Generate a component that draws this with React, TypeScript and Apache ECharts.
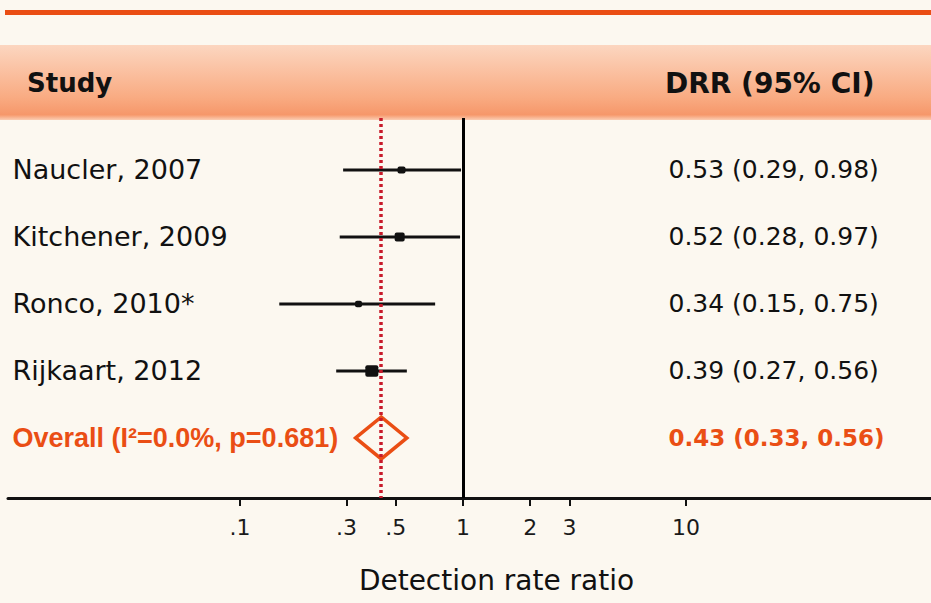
import React, { useEffect, useRef } from 'react';
import * as echarts from 'echarts';

const studies = ['Naucler, 2007', 'Kitchener, 2009', 'Ronco, 2010*', 'Rijkaart, 2012'];
const drr = [0.53, 0.52, 0.34, 0.39];
const ciLower = [0.29, 0.28, 0.15, 0.27];
const ciUpper = [0.98, 0.97, 0.75, 0.56];
const markerSize = [8, 10, 7, 13];
const overallLabel = 'Overall (I\u00B2=0.0%, p=0.681)';
const overallDrr = 0.43;
const overallLower = 0.33;
const overallUpper = 0.56;
const tickValues = [0.1, 0.3, 0.5, 1, 2, 3, 10];
const tickLabels = ['.1', '.3', '.5', '1', '2', '3', '10'];
const axisTitle = 'Detection rate ratio';
const headerLeft = 'Study';
const headerRight = 'DRR (95% CI)';

const lg = (v: number) => Math.log10(v);
const fmt = (e: number, l: number, h: number) => `${e.toFixed(2)} (${l.toFixed(2)}, ${h.toFixed(2)})`;

const ORANGE = '#ea4e14';
const FONT = '"DejaVu Sans", sans-serif';
const BOLD_FONT = '"Liberation Sans", Arial, sans-serif';

export default function App() {
  const ref = useRef<HTMLDivElement>(null);
  useEffect(() => {
    if (!ref.current) return;
    const chart = echarts.init(ref.current, undefined, { renderer: 'svg' });
    const xMin = -2.0404;
    const xMax = 2.0987;
    const textCol = 0.9193;

    const leftLabels = studies.map((s, i) => ({ value: [xMin, i], name: s }));
    leftLabels.push({
      value: [xMin, studies.length],
      name: overallLabel,
      label: { color: ORANGE, fontWeight: 'bold', fontSize: 27, fontFamily: BOLD_FONT },
    } as any);
    const rightLabels = studies.map((s, i) => ({ value: [textCol, i], name: fmt(drr[i], ciLower[i], ciUpper[i]) }));
    rightLabels.push({
      value: [textCol, studies.length],
      name: fmt(overallDrr, overallLower, overallUpper),
      label: { color: ORANGE, fontWeight: 'bold', fontSize: 23 },
    } as any);

    const option: any = {
      animation: false,
      backgroundColor: '#fcf8f0',
      textStyle: { fontFamily: FONT },
      graphic: [
        { type: 'rect', shape: { x: 5, y: 10, width: 926, height: 5 }, style: { fill: ORANGE } },
        {
          type: 'rect',
          shape: { x: 0, y: 45, width: 931, height: 75 },
          style: {
            fill: new echarts.graphic.LinearGradient(0, 0, 0, 1, [
              { offset: 0, color: '#fcd6c0' },
              { offset: 0.7, color: '#f9ab82' },
              { offset: 0.93, color: '#f6976a' },
              { offset: 1, color: '#fbcdb3' },
            ]),
          },
        },
        {
          type: 'text', x: 27, y: 83,
          style: { text: headerLeft, fontFamily: FONT, fontWeight: 'bold', fontSize: 26, fill: '#111', verticalAlign: 'middle' },
        },
        {
          type: 'text', x: 665, y: 83,
          style: { text: headerRight, fontFamily: FONT, fontWeight: 'bold', fontSize: 28, fill: '#111', verticalAlign: 'middle' },
        },
      ],
      grid: { left: 8, right: 0, top: 118, bottom: 105, containLabel: false },
      xAxis: {
        type: 'value',
        min: xMin,
        max: xMax,
        splitLine: { show: false },
        axisLine: { show: true, onZero: false, lineStyle: { color: '#111', width: 3 } },
        axisTick: { show: true, customValues: tickValues.map(lg), length: 8, lineStyle: { color: '#111', width: 2 } },
        axisLabel: {
          show: true,
          customValues: tickValues.map(lg),
          margin: 18,
          fontSize: 22,
          color: '#1a1a1a',
          fontFamily: FONT,
          formatter: (v: number) => {
            const i = tickValues.findIndex((t) => Math.abs(lg(t) - v) < 1e-6);
            return i >= 0 ? tickLabels[i] : '';
          },
        },
        name: axisTitle,
        nameLocation: 'middle',
        nameGap: 68,
        nameTextStyle: { fontSize: 28, color: '#111', fontFamily: FONT, padding: [0, 0, 0, 54] },
      },
      yAxis: {
        type: 'value',
        inverse: true,
        min: -0.776,
        max: 4.896,
        show: false,
      },
      series: [
        {
          type: 'custom',
          name: 'studies',
          silent: true,
          z: 3,
          data: studies.map((_, i) => [lg(drr[i]), lg(ciLower[i]), lg(ciUpper[i]), i, markerSize[i]]),
          renderItem: (params: any, api: any) => {
            const y = api.value(3);
            const p0 = api.coord([api.value(1), y]);
            const p1 = api.coord([api.value(2), y]);
            const pc = api.coord([api.value(0), y]);
            const s = api.value(4);
            return {
              type: 'group',
              children: [
                { type: 'line', shape: { x1: p0[0], y1: p0[1], x2: p1[0], y2: p1[1] }, style: { stroke: '#111', lineWidth: 3 } },
                { type: 'rect', shape: { x: pc[0] - s / 2, y: pc[1] - s * 0.45, width: s, height: s * 0.9, r: 2 }, style: { fill: '#111' } },
              ],
            };
          },
        },
        {
          type: 'custom',
          name: 'overall',
          silent: true,
          z: 3,
          data: [[lg(overallDrr), lg(overallLower), lg(overallUpper), studies.length]],
          renderItem: (params: any, api: any) => {
            const y = api.value(3);
            const pl = api.coord([api.value(1), y]);
            const ph = api.coord([api.value(2), y]);
            const pc = api.coord([api.value(0), y]);
            const h = 21;
            return {
              type: 'polygon',
              shape: { points: [[pl[0], pl[1]], [pc[0], pc[1] - h], [ph[0], ph[1]], [pc[0], pc[1] + h]] },
              style: { stroke: ORANGE, lineWidth: 3.5, fill: 'none' },
            };
          },
        },
        {
          type: 'line',
          name: 'refs',
          silent: true,
          data: [],
          z: 4,
          markLine: {
            silent: true,
            symbol: 'none',
            label: { show: false },
            data: [
              { xAxis: 0, lineStyle: { color: '#000', width: 3, type: 'solid', opacity: 1 } },
              { xAxis: lg(overallDrr), lineStyle: { color: '#c81a2a', width: 3.5, type: [3, 3], opacity: 1 } },
            ],
          },
        },
        {
          type: 'scatter',
          name: 'leftLabels',
          silent: true,
          symbolSize: 1,
          itemStyle: { color: 'rgba(0,0,0,0)', opacity: 1 },
          data: leftLabels,
          label: {
            show: true,
            position: 'right',
            distance: 4,
            formatter: (p: any) => p.name,
            fontSize: 27,
            color: '#111',
            opacity: 1,
            fontFamily: FONT,
          },
        },
        {
          type: 'scatter',
          name: 'rightLabels',
          silent: true,
          symbolSize: 1,
          itemStyle: { color: 'rgba(0,0,0,0)', opacity: 1 },
          data: rightLabels,
          label: {
            show: true,
            position: 'right',
            distance: 0,
            formatter: (p: any) => p.name,
            fontSize: 25,
            color: '#111',
            opacity: 1,
            fontFamily: FONT,
          },
        },
      ],
    };
    chart.setOption(option);
    return () => chart.dispose();
  }, []);
  return <div ref={ref} style={{ position: 'fixed', left: 0, top: 0, width: 931, height: 603 }} />;
}
